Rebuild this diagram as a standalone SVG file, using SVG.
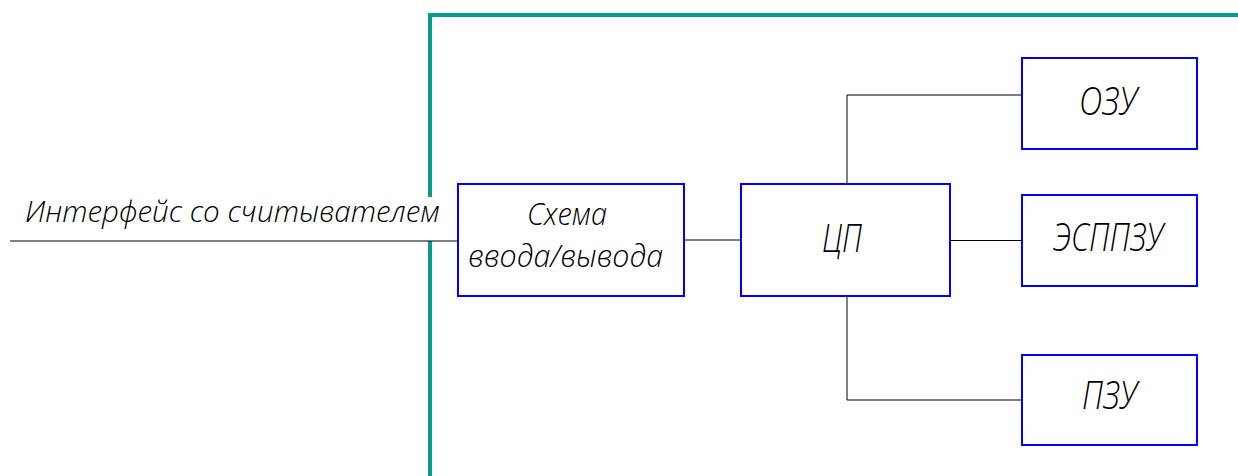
<svg xmlns="http://www.w3.org/2000/svg" width="1238" height="476" viewBox="0 0 1238 476">
<style>
.box{fill:#fff;stroke:#0000ff;stroke-width:2}
.ln{fill:none;stroke:#000;stroke-width:1}
.frame{fill:none;stroke:#0a9a90;stroke-width:4}
.t{font-family:"Open Sans","Liberation Sans",sans-serif;font-style:italic;font-weight:300;fill:#000;text-anchor:start}
</style>
<rect width="1238" height="476" fill="#fff"/>
<g id="frame">
<polyline class="frame" points="430,197 430,15 1238,15"/>
<line class="frame" x1="430" y1="241" x2="430" y2="476"/>
</g>
<g id="connectors">
<line class="ln" x1="10" y1="241" x2="458" y2="241"/>
<line class="ln" x1="684" y1="240" x2="741" y2="240"/>
<polyline class="ln" points="847,184 847,95 1022,95"/>
<line class="ln" x1="950" y1="240.5" x2="1022" y2="240.5"/>
<polyline class="ln" points="847,296 847,400 1022,400"/>
</g>
<g id="interface-label">
<text class="t" x="25" y="222" font-size="29" textLength="415" lengthAdjust="spacingAndGlyphs">Интерфейс со считывателем</text>
</g>
<g id="io">
<rect class="box" x="458" y="184" width="226" height="112"/>
<text class="t" x="527" y="225" font-size="32" textLength="80" lengthAdjust="spacingAndGlyphs">Схема</text>
<text class="t" x="468" y="267" font-size="32" textLength="195" lengthAdjust="spacingAndGlyphs">ввода/вывода</text>
</g>
<g id="cpu">
<rect class="box" x="741" y="184" width="209" height="112"/>
<text class="t" x="822" y="252" font-size="38" textLength="40" lengthAdjust="spacingAndGlyphs">ЦП</text>
</g>
<g id="ozu">
<rect class="box" x="1022" y="58" width="175" height="91"/>
<text class="t" x="1079" y="115" font-size="38" textLength="58" lengthAdjust="spacingAndGlyphs">ОЗУ</text>
</g>
<g id="esppzu">
<rect class="box" x="1022" y="195" width="175" height="91"/>
<text class="t" x="1053" y="251" font-size="38" textLength="110" lengthAdjust="spacingAndGlyphs">ЭСППЗУ</text>
</g>
<g id="pzu">
<rect class="box" x="1022" y="355" width="175" height="90"/>
<text class="t" x="1082" y="409" font-size="38" textLength="55" lengthAdjust="spacingAndGlyphs">ПЗУ</text>
</g>
</svg>
